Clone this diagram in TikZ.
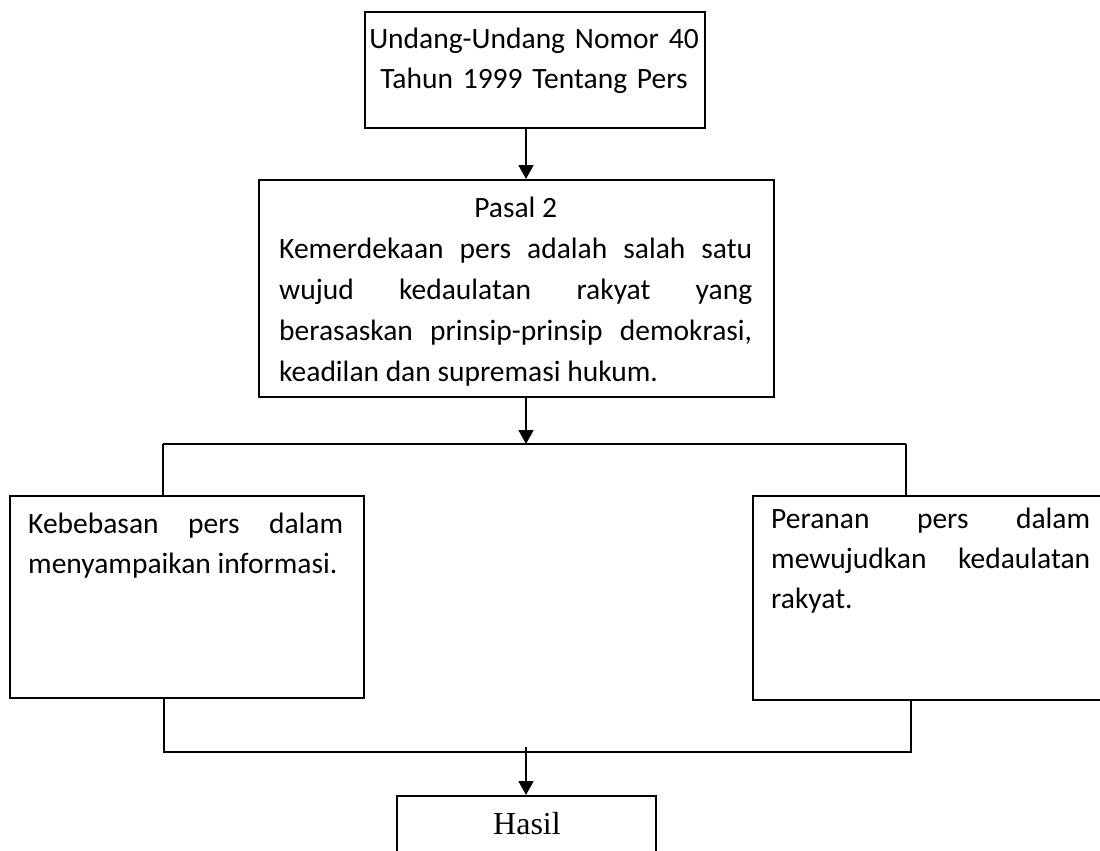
\documentclass[tikz,border=0pt]{standalone}
\usepackage{fontspec}
\setmainfont{Carlito}
\newfontfamily\hasilfont{Liberation Serif}
\usetikzlibrary{arrows.meta,calc}
\hyphenpenalty=10000
\exhyphenpenalty=10000
\begin{document}
\begin{tikzpicture}[x=1pt,y=-1pt,
  box/.style={draw, line width=1.8pt, inner sep=0pt, anchor=north west},
  txt/.style={inner sep=0pt, anchor=north west, align=justify,
    font=\fontsize{29.5}{40}\selectfont},
  conn/.style={line width=1.8pt},
  arr/.style={line width=1.8pt, -{Triangle[width=15pt,length=14pt]}}]
\clip (0,0) rectangle (1100,851);
\fill[white] (0,0) rectangle (1100,851);
% boxes
\node[box, minimum width=340pt, minimum height=116pt] (b1) at (364,11) {};
\node[box, minimum width=515pt, minimum height=217pt] (b2) at (258,179) {};
\node[box, minimum width=354pt, minimum height=202pt] (b3) at (9,495) {};
\node[box, minimum width=400pt, minimum height=204pt] (b4) at (752,495) {};
\node[box, minimum width=259pt, minimum height=100pt] (b5) at (396,795) {};
% texts
\node[txt, anchor=north, text width=336pt, align=center] (t1) at (534,20)
  {\strut Undang-Undang Nomor 40\\\strut Tahun 1999 Tentang Pers};
\node[txt, text width=473pt, font=\fontsize{29.5}{41}\selectfont] (t2) at (279,189)
  {{\centering\strut Pasal 2\par}\strut Kemerdekaan pers adalah salah satu\linebreak wujud kedaulatan rakyat yang\linebreak berasaskan prinsip-prinsip demokrasi,\linebreak keadilan dan supremasi hukum.};
\node[txt, text width=315pt] (t3) at (28,505)
  {\strut Kebebasan pers dalam\linebreak menyampaikan informasi.};
\node[txt, text width=319pt] (t4) at (771,500)
  {\strut Peranan pers dalam\linebreak mewujudkan kedaulatan\linebreak rakyat.};
\node[inner sep=0pt, anchor=base, font=\hasilfont\fontsize{32}{37}\selectfont] (t5) at (527,834) {Hasil};
% connectors
\coordinate (ax) at (526,0);
\coordinate (tl) at (163,444);
\coordinate (tr) at (906,444);
\coordinate (bl) at (164,752);
\coordinate (br) at (911,752);
\draw[arr] (b1.south -| ax) -- (b2.north -| ax);
\draw[arr] (b2.south -| ax) -- (ax |- tl);
\draw[conn] (tl) -- (tr);
\draw[conn] (tl) -- (tl |- b3.north);
\draw[conn] (tr) -- (tr |- b4.north);
\draw[conn] (b3.south -| bl) -- (bl) -- (br) -- (b4.south -| br);
\draw[arr] ($(ax |- bl)+(0,-5)$) -- (b5.north -| ax);
\end{tikzpicture}
\end{document}
